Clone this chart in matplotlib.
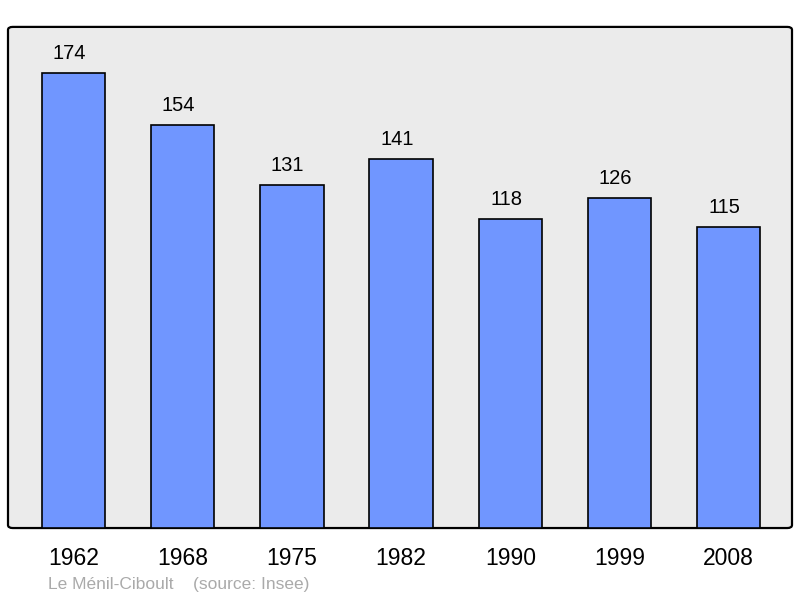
import matplotlib.pyplot as plt
from matplotlib.patches import FancyBboxPatch

years = ["1962", "1968", "1975", "1982", "1990", "1999", "2008"]
population = [174, 154, 131, 141, 118, 126, 115]

plt.rcParams["font.family"] = ["Liberation Sans", "DejaVu Sans"]

fig = plt.figure(figsize=(8, 5.98), dpi=100)
ax = fig.add_axes([0.01, 0.117, 0.98, 0.838])

x = range(len(years))
ax.bar(x, population, width=0.58, color="#7096ff", edgecolor="black",
       linewidth=1.2, zorder=3)

for xi, v in zip(x, population):
    ax.annotate(str(v), (xi, v), xytext=(-3, 7.5), textcoords="offset points",
                ha="center", va="bottom", fontsize=14.5)

ax.set_xlim(-0.6, 6.58)
ax.set_ylim(0, 191.6)
ax.set_facecolor("none")
for s in ax.spines.values():
    s.set_visible(False)

frame = FancyBboxPatch((0, 0), 1, 1, boxstyle="round,pad=0,rounding_size=0.006",
                       transform=ax.transAxes, facecolor="#ebebeb",
                       edgecolor="black", linewidth=1.6, zorder=0, clip_on=False)
ax.add_patch(frame)

ax.set_yticks([])
ax.set_xticks(list(x))
ax.set_xticklabels(years, fontsize=16.5)
ax.tick_params(axis="x", length=0, pad=14)

fig.text(0.06, 0.01, "Le Ménil-Ciboult    (source: Insee)", color="#aaaaaa",
         fontsize=12.5, ha="left", va="bottom")

fig.savefig("out.png", dpi=100)
